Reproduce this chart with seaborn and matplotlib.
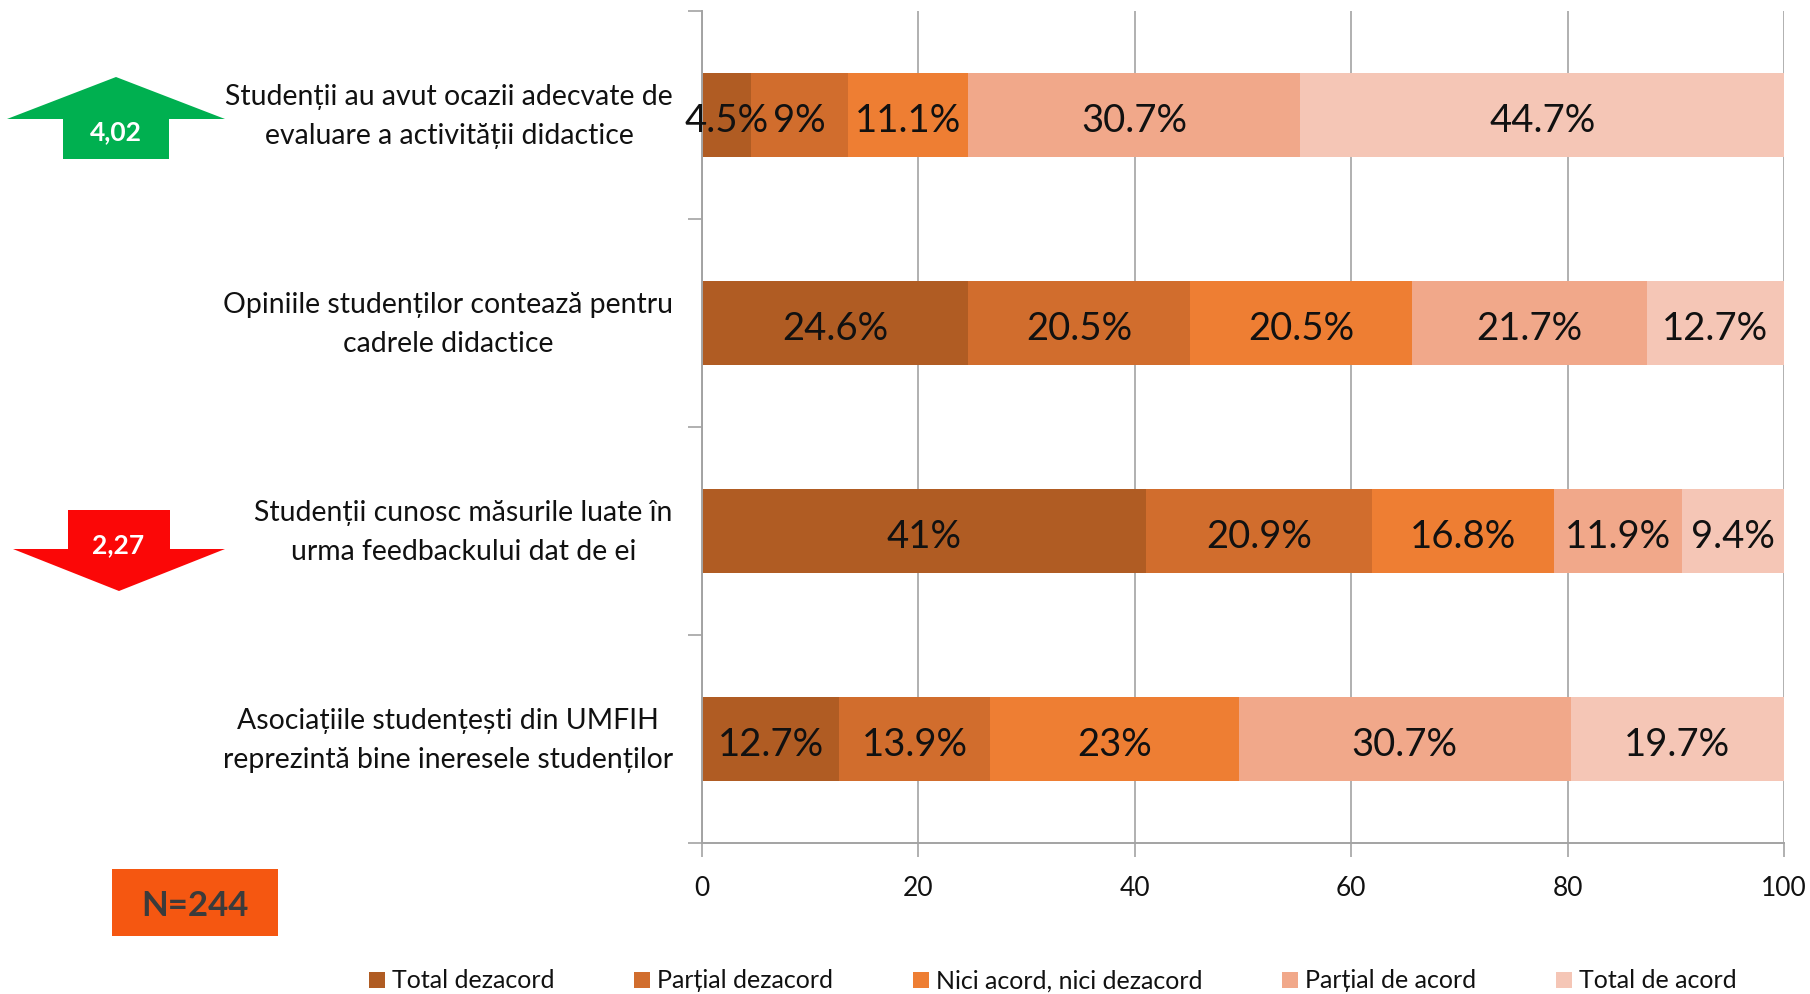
import matplotlib
matplotlib.use("Agg")
import matplotlib.pyplot as plt
import seaborn as sns
from matplotlib.patches import Polygon, Rectangle
from matplotlib.transforms import ScaledTranslation

questions = [
    "Studenții au avut ocazii adecvate de\nevaluare a activității didactice",
    "Opiniile studenților contează pentru\ncadrele didactice",
    "Studenții cunosc măsurile luate în\nurma feedbackului dat de ei",
    "Asociațiile studențești din UMFIH\nreprezintă bine ineresele studenților",
]
series_names = ["Total dezacord", "Parțial dezacord", "Nici acord, nici dezacord",
                "Parțial de acord", "Total de acord"]
total_dezacord = [4.5, 24.6, 41, 12.7]
partial_dezacord = [9, 20.5, 20.9, 13.9]
nici_acord = [11.1, 20.5, 16.8, 23]
partial_acord = [30.7, 21.7, 11.9, 30.7]
total_acord = [44.7, 12.7, 9.4, 19.7]
series_values = [total_dezacord, partial_dezacord, nici_acord, partial_acord, total_acord]
colors = ["#B05C23", "#D16D2D", "#EE7E33", "#F1A88A", "#F5C6B6"]
x_ticks = [0, 20, 40, 60, 80, 100]

W, H = 1810, 994
FONT = ["Lato", "DejaVu Sans"]
GRAY = "#A3A3A3"

sns.set_theme(style="white")
plt.rcParams["font.family"] = FONT


def fx(px):
    return px / W


def fy(py):
    return 1 - py / H


fig = plt.figure(figsize=(W / 100, H / 100), dpi=100)
ax = fig.add_axes([fx(702), fy(843), (1784 - 702) / W, (843 - 11) / H])
ax.set_axisbelow(True)

left = [0, 0, 0, 0]
for name, values, color in zip(series_names, series_values, colors):
    sns.barplot(x=values, y=questions, left=left, color=color, width=0.4,
                saturation=1, label=name, ax=ax, legend=False, linewidth=0)
    bars = ax.containers[-1]
    texts = ax.bar_label(bars, labels=[f"{v:g}%" for v in values], label_type="center",
                         fontsize=27.5, color="#111111")
    for t in texts:
        t.xyann = (0, -4.5)
    left = [a + b for a, b in zip(left, values)]

ax.set_xlim(0, 100)
ax.set_ylim(3.5, -0.5)
ax.set_xticks(x_ticks)
ax.set_xticklabels([str(t) for t in x_ticks], fontsize=19, color="#111111")
ax.tick_params(axis="x", length=10, width=1.2, color=GRAY, pad=14, bottom=True)

# ticks sit on the category boundaries, labels on the centres
ax.set_yticks([i - 0.5 for i in range(len(questions) + 1)])
ax.set_yticklabels([])
ax.set_yticks(range(len(questions)), minor=True)
ax.set_yticklabels(questions, minor=True, fontsize=20.4, color="#111111",
                   multialignment="center", linespacing=1.62)
ax.tick_params(axis="y", which="major", length=10, width=1.2, color=GRAY, left=True)
ax.tick_params(axis="y", which="minor", length=0, pad=21)
lift = ScaledTranslation(0, 0.072, fig.dpi_scale_trans)
for label in ax.get_yticklabels(minor=True):
    label.set_transform(label.get_transform() + lift)

ax.xaxis.grid(True, color=GRAY, linewidth=1.2)
ax.yaxis.grid(False)
ax.set_xlabel("")
ax.set_ylabel("")
sns.despine(ax=ax, top=True, right=True)
for side in ["left", "bottom"]:
    ax.spines[side].set_color(GRAY)
    ax.spines[side].set_linewidth(1.4)


def add_shape(points, color):
    fig.add_artist(Polygon([(fx(x), fy(y)) for x, y in points], closed=True,
                           facecolor=color, edgecolor="none",
                           transform=fig.transFigure))


# up and down arrows with the mean scores
add_shape([(116, 77), (225, 119), (169, 119), (169, 159), (63, 159), (63, 119), (7, 119)],
          "#00B050")
fig.text(fx(116), fy(132), "4,02", color="white", fontsize=19, fontweight="bold",
         ha="center", va="center")
add_shape([(68, 510), (170, 510), (170, 549), (225, 549), (119, 591), (13, 549), (68, 549)],
          "#FB0707")
fig.text(fx(118), fy(545), "2,27", color="white", fontsize=19, fontweight="bold",
         ha="center", va="center")

fig.add_artist(Rectangle((fx(112), fy(936)), (278 - 112) / W, (936 - 869) / H,
                         facecolor="#F55711", edgecolor="none", transform=fig.transFigure))
fig.text(fx(195), fy(906), "N=244", color="#3B3B3B", fontsize=25, fontweight="bold",
         ha="center", va="center")

fig.legend(handles=list(ax.containers), labels=series_names, ncol=5, loc="center left",
           bbox_to_anchor=(fx(369), fy(981)), frameon=False, fontsize=18,
           handlelength=0.63, handleheight=0.63, handletextpad=0.28, columnspacing=3.2,
           labelcolor="#111111", borderpad=0, borderaxespad=0)

fig.savefig("out.png", dpi=100)
